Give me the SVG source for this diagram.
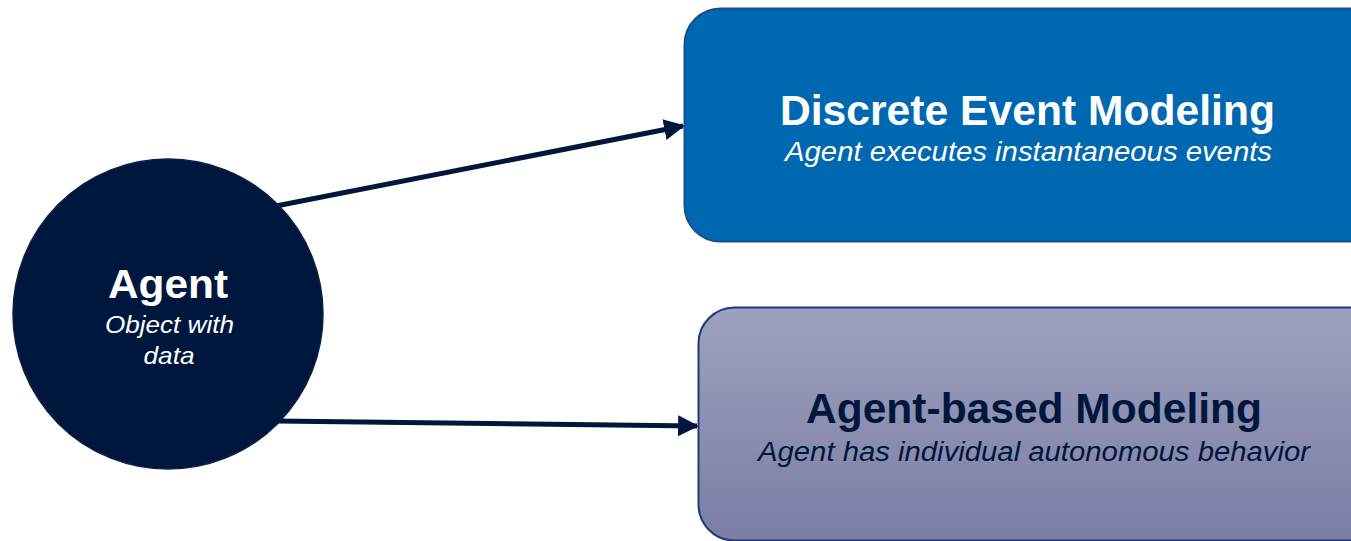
<svg xmlns="http://www.w3.org/2000/svg" width="1351" height="541" viewBox="0 0 1351 541">
<style>
.t{font-family:"Liberation Sans",Arial,sans-serif;text-anchor:middle}
.b{font-weight:bold}
.i{font-style:italic}
.conn{stroke:#00173D;stroke-width:5;fill:none}
</style>
<defs>
<linearGradient id="g" x1="0" y1="0" x2="0" y2="1">
<stop offset="0" stop-color="#9EA1BE"/>
<stop offset="1" stop-color="#7B7DA6"/>
</linearGradient>
<marker id="ah" viewBox="0 0 10 10" refX="9" refY="5" markerWidth="4.2" markerHeight="4.2" orient="auto" markerUnits="strokeWidth">
<path d="M0,0 L10,5 L0,10 Z" fill="#00173D"/>
</marker>
</defs>
<rect width="1351" height="541" fill="#FFFFFF"/>
<g id="connectors">
<line class="conn" x1="276" y1="206" x2="683" y2="126" marker-end="url(#ah)"/>
<line class="conn" x1="276" y1="421" x2="697" y2="426" marker-end="url(#ah)"/>
</g>
<g id="agent">
<circle cx="168" cy="314" r="155" fill="#00173D" stroke="#0a1f45" stroke-width="1.5"/>
<text class="t b" x="168" y="298" font-size="41" fill="#FFFFFF" textLength="120" lengthAdjust="spacingAndGlyphs">Agent</text>
<text class="t i" x="169.5" y="333" font-size="24" fill="#FFFFFF" textLength="129" lengthAdjust="spacingAndGlyphs">Object with</text>
<text class="t i" x="169" y="364" font-size="24" fill="#FFFFFF" textLength="51" lengthAdjust="spacingAndGlyphs">data</text>
</g>
<g id="discrete">
<rect x="684.5" y="8.5" width="700" height="233" rx="36" fill="#0067B1" stroke="#1B4F88" stroke-width="2"/>
<text class="t b" x="1027.5" y="125" font-size="42" fill="#FFFFFF" textLength="495" lengthAdjust="spacingAndGlyphs">Discrete Event Modeling</text>
<text class="t i" x="1028.5" y="161" font-size="27" fill="#FFFFFF" textLength="487" lengthAdjust="spacingAndGlyphs">Agent executes instantaneous events</text>
</g>
<g id="agentbased">
<rect x="698.5" y="307.5" width="700" height="233" rx="36" fill="url(#g)" stroke="#1F3A78" stroke-width="2"/>
<text class="t b" x="1034" y="423" font-size="42" fill="#00173D" textLength="456" lengthAdjust="spacingAndGlyphs">Agent-based Modeling</text>
<text class="t i" x="1034" y="461" font-size="27" fill="#00173D" textLength="552" lengthAdjust="spacingAndGlyphs">Agent has individual autonomous behavior</text>
</g>
</svg>
